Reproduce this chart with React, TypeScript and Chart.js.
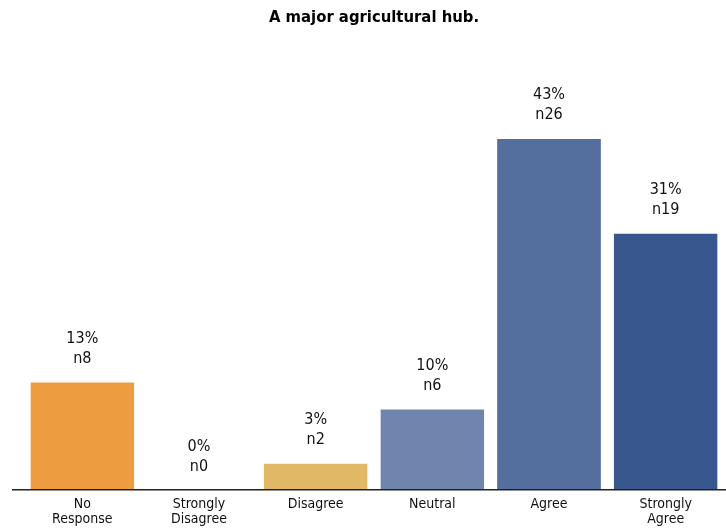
import React, { useEffect, useRef } from "react";
import { Chart, registerables } from "chart.js";

Chart.register(...registerables);

const categories: (string | string[])[] = [
  ["No", "Response"],
  ["Strongly", "Disagree"],
  "Disagree",
  "Neutral",
  "Agree",
  ["Strongly", "Agree"],
];
const counts = [8, 0, 2, 6, 26, 19];
const percents = [13, 0, 3, 10, 43, 31];
const colors = ["#ED9C40", "#C9C9C9", "#E1B866", "#6F85AE", "#546E9E", "#38578E"];
const titleText = "A major agricultural hub.";
const FONT = "'DejaVu Sans Condensed', 'DejaVu Sans', Verdana, sans-serif";

const labelPlugin = {
  id: "barLabels",
  afterDatasetsDraw(chart: any) {
    const ctx = chart.ctx;
    const meta = chart.getDatasetMeta(0);
    ctx.save();
    ctx.fillStyle = "#111";
    ctx.font = `16px ${FONT}`;
    ctx.textAlign = "center";
    ctx.textBaseline = "middle";
    meta.data.forEach((bar: any, i: number) => {
      ctx.fillText(`${percents[i]}%`, bar.x, bar.y - 43);
      ctx.fillText(`n${counts[i]}`, bar.x, bar.y - 23);
    });
    ctx.restore();
  },
};

const axisLinePlugin = {
  id: "axisLine",
  afterDatasetsDraw(chart: any) {
    const ctx = chart.ctx;
    const y = chart.chartArea.bottom;
    ctx.save();
    ctx.strokeStyle = "#222";
    ctx.lineWidth = 1.5;
    ctx.beginPath();
    ctx.moveTo(12, y);
    ctx.lineTo(chart.width, y);
    ctx.stroke();
    ctx.restore();
  },
};

export default function App() {
  const ref = useRef<HTMLCanvasElement | null>(null);
  useEffect(() => {
    if (!ref.current) return;
    const chart = new Chart(ref.current, {
      type: "bar",
      data: {
        labels: categories,
        datasets: [
          {
            data: counts,
            backgroundColor: colors,
            borderColor: "rgba(255,255,255,0.35)",
            borderWidth: { top: 1, left: 0, right: 0, bottom: 0 },
            borderSkipped: "bottom",
            categoryPercentage: 0.89,
            barPercentage: 1,
          },
        ],
      },
      options: {
        animation: false,
        responsive: false,
        maintainAspectRatio: false,
        layout: { padding: { left: 24, right: 2, top: 0, bottom: 2 } },
        plugins: {
          legend: { display: false },
          tooltip: { enabled: false },
          title: {
            display: true,
            text: titleText,
            color: "#000",
            font: { family: FONT, size: 16.5, weight: "bold" },
            padding: { top: 8, bottom: 56 },
          },
        },
        scales: {
          x: {
            grid: { display: false },
            border: { display: false },
            ticks: {
              color: "#111",
              font: { family: FONT, size: 14, lineHeight: 1.08 },
              padding: -1,
              maxRotation: 0,
              autoSkip: false,
            },
          },
          y: {
            display: false,
            min: 0,
            max: 30,
          },
        },
      },
      plugins: [labelPlugin, axisLinePlugin],
    });
    return () => chart.destroy();
  }, []);
  return (
    <div style={{ position: "absolute", left: 0, top: 0, width: 726, height: 528, background: "#fff" }}>
      <canvas ref={ref} width={726} height={528} style={{ display: "block" }} />
    </div>
  );
}
